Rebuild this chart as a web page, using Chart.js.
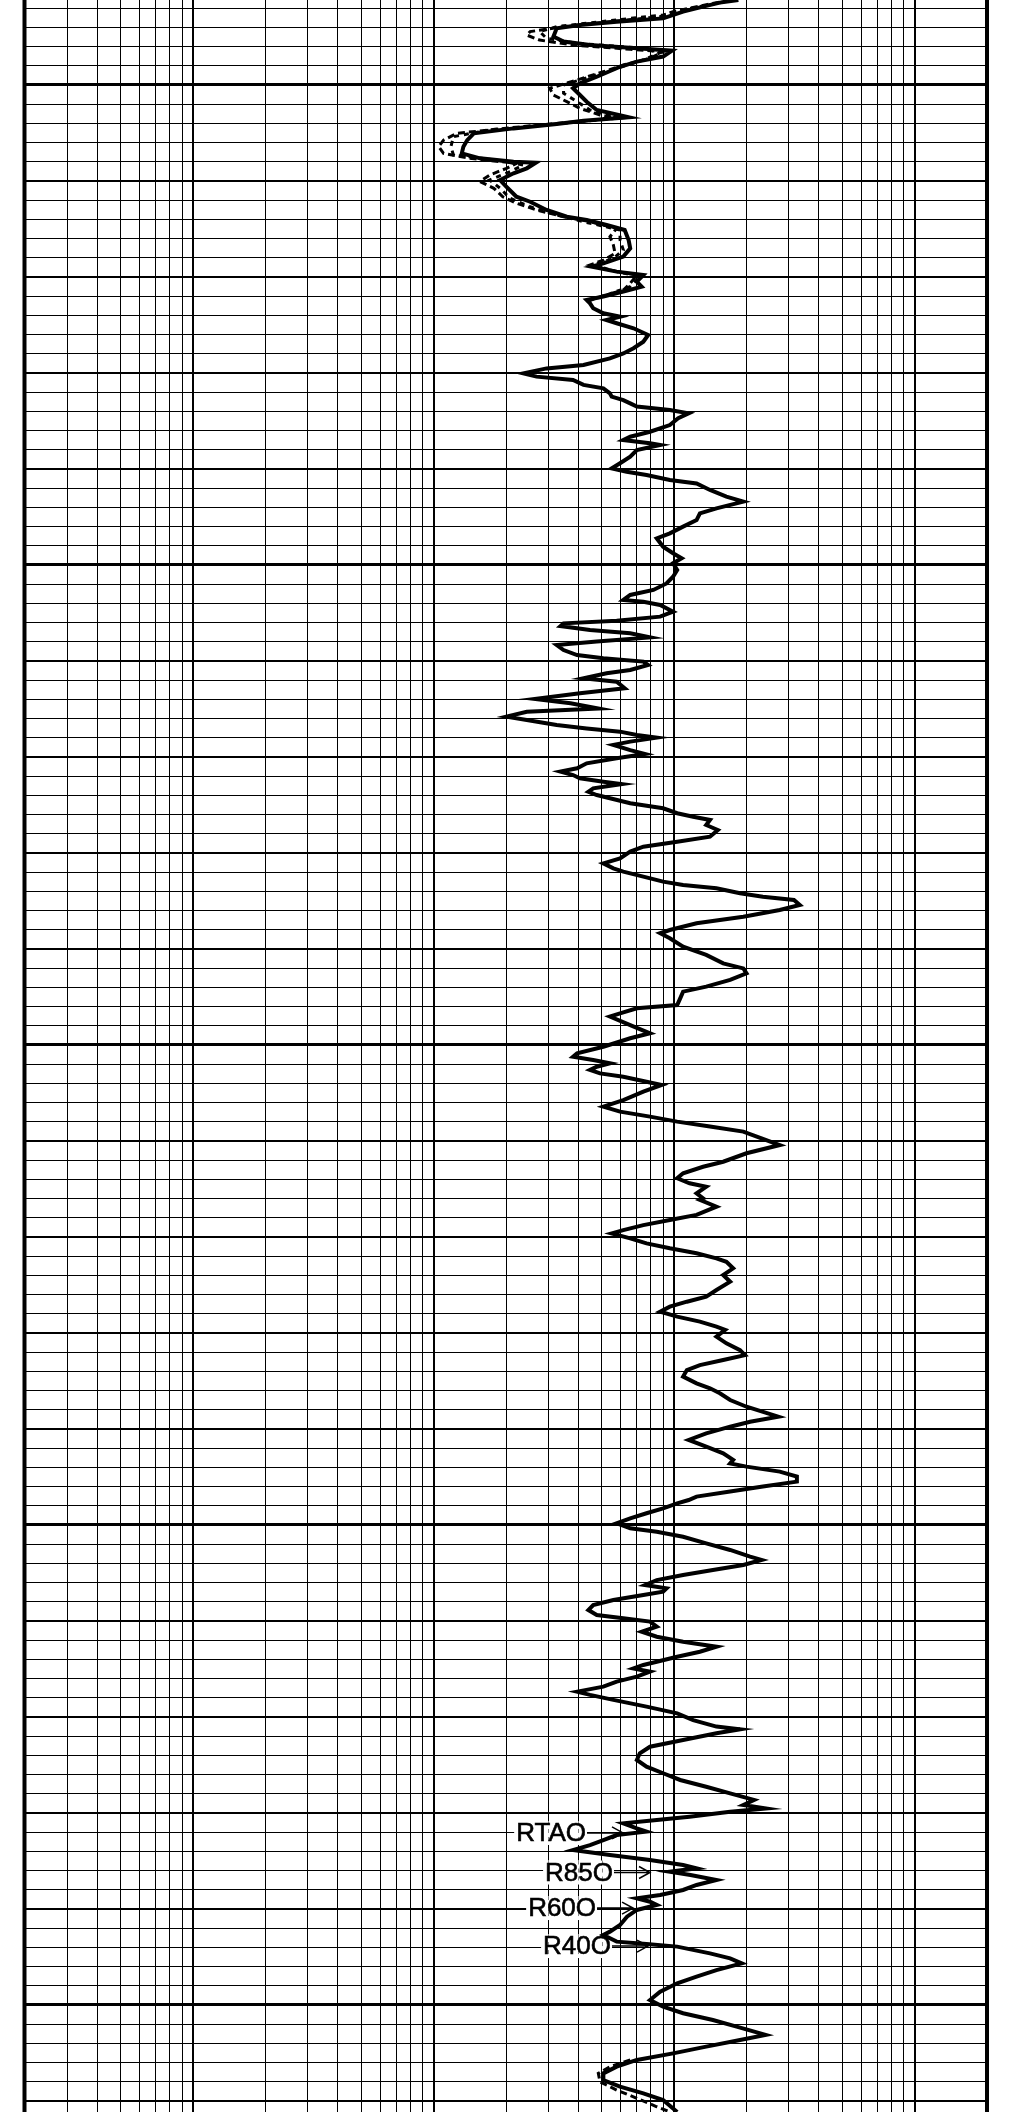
<!DOCTYPE html>
<html>
<head>
<meta charset="utf-8">
<title>Array induction resistivity log</title>
<script src="https://cdn.jsdelivr.net/npm/chart.js@4.4.1/dist/chart.umd.min.js"></script>
<style>
  html, body { margin: 0; padding: 0; background: #fff; overflow: hidden; }
  canvas { display: block; }
</style>
</head>
<body>
<canvas id="log" width="1012" height="2112"></canvas>
<script>
// Depth window of the track (one grid line per depth unit)
const depthTop = 95.573;
const depthBottom = 205.573;

// Resistivity scale (ohm.m), logarithmic, and its grid values
const resMin = 0.2;
const resMax = 2000;
const resGridValues = [
  0.2, 0.3, 0.4, 0.5, 0.6, 0.7, 0.8, 0.9,
  1, 2, 3, 4, 5, 6, 7, 8, 9,
  10, 20, 30, 40, 50, 60, 70, 80, 90,
  100, 200, 300, 400, 500, 600, 700, 800, 900,
  1000, 2000
];

// RTAO (solid curve)
const rtaoDepth = [
  95.57, 95.71, 95.92, 96.18, 96.53, 96.70, 96.88, 97.05, 97.48, 97.74,
  97.92, 98.09, 98.21, 98.52, 98.78, 99.05, 99.57, 99.91, 100.17, 100.52,
  100.87, 101.30, 101.68, 101.86, 102.03, 102.26, 102.52, 102.87, 103.21, 103.56,
  103.82, 104.00, 104.05, 104.34, 104.60, 104.95, 105.30, 105.82, 106.08, 106.51,
  106.86, 107.03, 107.29, 107.55, 108.07, 108.51, 108.94, 109.29, 109.46, 109.72,
  109.90, 110.24, 110.50, 110.76, 111.02, 111.20,
  111.37, 111.63, 111.89, 112.07, 112.24, 112.41, 112.67, 113.02, 113.37, 113.71,
  113.98, 114.24, 114.58, 114.76, 115.02, 115.19, 115.36, 115.62, 115.80, 116.06,
  116.23, 116.41, 116.58, 116.75, 116.93, 117.10, 117.36, 117.71, 118.06, 118.32,
  118.49, 118.66, 118.75, 119.01, 119.36, 119.70, 119.97, 120.14, 120.31, 120.57,
  120.75, 121.09, 121.44, 121.70, 122.05, 122.31, 122.66, 123.00, 123.35, 123.61,
  124.05, 124.39, 124.65, 124.91, 125.26, 125.61, 125.96, 126.30, 126.56, 126.82,
  126.91, 127.08, 127.43, 127.69, 127.90, 128.04, 128.18, 128.39, 128.56, 128.77,
  128.99, 129.17, 129.43, 129.69, 129.86, 130.03, 130.21, 130.47, 130.64, 130.90,
  131.08, 131.42, 131.68, 131.98, 132.20, 132.47, 132.64, 132.90, 133.07, 133.33,
  133.51, 133.68, 133.85, 133.99, 134.20, 134.37, 134.64, 134.84, 135.07, 135.33,
  135.59, 135.76, 135.94, 136.11, 136.29, 136.41, 136.63, 136.81, 136.98, 137.15,
  137.41, 137.67, 137.93, 138.11, 138.28, 138.54, 138.80, 139.15, 139.41, 139.67,
  139.93, 140.28, 140.54, 140.80, 140.97, 141.23, 141.49, 141.67, 141.84, 142.10,
  142.28, 142.45,
  142.71, 142.97, 143.32, 143.66, 144.01, 144.18, 144.44, 144.88, 145.31, 145.75,
  146.01, 146.27, 146.61, 146.96, 147.22, 147.57, 147.92, 148.09, 148.35, 148.52,
  148.96, 149.39, 149.65, 150.09, 150.43, 150.61, 150.78, 150.95, 151.13, 151.30,
  151.48, 151.65, 151.91, 152.08, 152.43, 152.87, 153.21, 153.47, 153.73, 153.99,
  154.25, 154.51, 154.86, 155.21, 155.64, 156.08, 156.34, 156.68, 156.94, 157.20,
  157.38, 157.73, 157.99,
  158.07, 158.42, 158.85, 159.11, 159.38, 159.64, 159.81, 160.07, 160.33, 160.59,
  160.85, 161.11, 161.29, 161.63, 161.98, 162.33, 162.76, 163.11, 163.37, 163.63,
  163.89, 164.15, 164.41, 164.67, 164.84, 165.19, 165.54, 165.89, 166.15, 166.41,
  166.67, 166.93, 167.27, 167.62, 167.88, 168.14, 168.49, 168.84, 169.36, 169.62,
  169.88, 170.23, 170.57, 170.92, 171.27, 171.61, 171.79, 171.96, 172.22, 172.48,
  172.74, 173.00, 173.26, 173.52, 173.70,
  173.87, 174.13, 174.39, 174.65, 174.91, 175.17, 175.35, 175.61, 175.96, 176.30,
  176.65, 176.82, 177.08, 177.34, 177.60, 177.87, 178.13, 178.30, 178.47, 178.65,
  178.91, 179.17, 179.43, 179.69, 179.86, 180.03, 180.29, 180.56, 180.82, 181.08,
  181.34, 181.60, 181.86, 182.12, 182.29, 182.47, 182.64, 182.90, 183.16, 183.42,
  183.68, 183.85, 184.11, 184.46, 184.81, 185.16, 185.50, 185.64, 185.85, 186.20,
  186.55, 186.89, 187.24, 187.59, 187.93, 188.28, 188.63, 188.98, 189.32,
  189.58, 189.76, 189.93, 190.19, 190.37, 190.54, 190.80, 190.97, 191.15, 191.41,
  191.67, 191.93, 192.19, 192.45, 192.71, 192.88, 193.06, 193.23, 193.49, 193.75,
  194.01, 194.27, 194.44, 194.62, 194.79, 195.05, 195.40, 195.83, 196.18, 196.35,
  196.70, 196.82, 196.96, 197.31, 197.57, 197.83, 198.18, 198.52, 198.87, 199.31,
  199.74, 200.09, 200.43, 200.78, 201.13, 201.56, 201.82, 202.17, 202.52, 202.86,
  203.21, 203.56, 203.91, 204.25, 204.60, 204.95, 205.57
];
const rtaoValue = [
  185, 155, 132, 109, 90, 57.7, 40.6, 32.5, 31.5, 34.7,
  44.7, 70, 98, 90, 70, 59.6, 47.7, 40.6, 38, 40.6,
  43.3, 47.7, 64.7, 42, 32.5, 21.5, 14.7, 13.8, 13.3, 13.1,
  15.6, 21.5, 26.6, 24.4, 21.5, 18.9, 20.1, 22.1, 25.2, 29.5,
  35.8, 43.3, 52.4, 62.3, 64.7, 65.7, 61.5, 50.8, 45.4, 57.7,
  74.5, 70, 73.3, 61.5, 50.8, 43.3,
  44.7, 46.1, 50.8, 59.6, 52.3, 57.7, 67.8, 78, 74.5, 67.8,
  61.5, 54.1, 42, 29.5, 23.6, 26.8, 38, 42, 50.8, 54.1,
  55, 61.5, 65.7, 70, 96, 115, 104, 96, 79.4, 65.7,
  61.5, 79.4, 87.5, 70, 65.7, 59.6, 55, 63.5, 76.8, 96,
  124, 141, 165, 194, 150, 128, 124, 109, 96, 84.7,
  90, 99, 107.5, 99, 103, 99, 93, 82, 65.7, 61.5,
  74.5, 87.5, 99, 87.5, 57.7, 34.7, 33.7, 44.7, 65.7, 79.4,
  47.7, 32.5, 34.7, 39.5, 50.8, 74.5, 78, 65.7, 52.4, 42,
  57.7, 62.3, 40.6, 26.4, 37.1, 48.4, 24.4, 20.1, 24.4, 32.5,
  43.3, 59.6, 70, 84.7, 65.7, 55.9, 65.7, 75.7, 57.7, 43.3,
  39.5, 33.7, 38, 40.6, 50.8, 60.5, 46.1, 44, 47.7, 54.1,
  65.7, 90, 103, 120, 141, 136, 152, 141, 103, 74.5,
  65.7, 59.6, 50.8, 55.9, 61.5, 74.5, 90, 109, 150, 188,
  234, 315,
  333, 275, 194, 124, 96, 87.5, 96, 109, 136, 160,
  194, 200, 171, 136, 109, 106, 103, 70, 59.6, 54.1,
  65.7, 79.4, 65.7, 50.8, 39.5, 38, 46.1, 54.1, 47.7, 44.7,
  49.2, 61.5, 76.8, 88.8, 74.5, 61.5, 50.8, 59.6, 79.4, 103,
  141, 194, 231, 275, 200, 160, 132, 109, 103, 116,
  136, 124, 132,
  128, 150, 124, 96, 74.5, 61.5, 55, 65.7, 76.8, 96,
  124, 150, 165, 176, 160, 171, 150, 136, 113, 96,
  87.5, 103, 128, 150, 163, 150, 165, 188, 197, 160,
  128, 113, 109, 124, 141, 155, 171, 200, 271, 207,
  171, 136, 115, 136, 160, 176, 171, 200, 275, 324,
  324, 234, 171, 124, 115,
  103, 90, 76.8, 65.7, 57.7, 65.7, 84.7, 109, 136, 171,
  207, 231, 194, 145, 109, 84.7, 75.7, 93, 90, 74.5,
  55.9, 46.1, 44, 47.7, 61.5, 79.4, 84.7, 73.3, 84.7, 109,
  150, 128, 103, 84.7, 74.5, 67.8, 79.4, 70, 57.7, 50.8,
  39.5, 44.7, 55.9, 76.8, 103, 120, 150, 188, 150, 109,
  79.4, 72, 70, 76.8, 90, 106, 136, 171, 215,
  194, 241, 171, 116, 84.7, 61.5, 70, 76.8, 57.7, 50.8,
  44.7, 38, 54.1, 79.4, 109, 124, 96, 117, 150, 124,
  109, 87.5, 70, 79.4, 84.7, 70, 63.7, 59.6, 54.1, 50.8,
  57.7, 76.8, 103, 141, 171, 191, 150, 124, 103, 87.5,
  79.4, 90, 109, 145, 182, 240, 188, 136, 99, 70,
  57.7, 50.8, 50.8, 59.6, 74.5, 90, 103
];

// R40O (dashed) where it separates from RTAO, upper interval
const r40UpperDepth = [
  95.57, 95.92, 96.18, 96.44, 96.70, 96.96, 97.22, 97.40, 97.66, 97.92,
  98.14, 98.26, 98.61, 98.96, 99.31, 99.74, 100.17, 100.52, 100.87, 101.22,
  101.56, 101.74, 102.00, 102.26, 102.52, 102.87, 103.21, 103.56, 103.82, 104.08,
  104.34, 104.69, 105.03, 105.38, 105.82, 106.16, 106.51, 106.86, 107.12, 107.47,
  107.90, 108.33, 108.77, 109.12, 109.37, 109.64, 109.90, 110.33, 110.68, 111.02,
  111.28
];
const r40UpperValue = [
  171, 124, 99, 87.5, 54.1, 34.7, 25.2, 24.4, 27.6, 38,
  65.7, 90, 79.4, 61.5, 50.8, 39.5, 30.4, 31.5, 35.8, 40.6,
  49.2, 57.7, 32.5, 19.6, 12.5, 11, 10.5, 11, 14.1, 22.1,
  20.1, 17.1, 15.6, 17.8, 19.4, 22.1, 26.8, 34.7, 44.7, 57.7,
  54.1, 55.9, 56.8, 50.8, 44.7, 54.1, 70, 65.7, 61.5, 49.2,
  43.3
];

// R60O (dashed) where it separates from RTAO, upper interval
const r60UpperDepth = [
  95.57, 96.01, 96.35, 96.61, 96.96, 97.22, 97.57, 97.83, 98.09, 98.32,
  98.70, 99.13, 99.57, 100.00, 100.43, 100.87, 101.30, 101.68, 102.00, 102.34,
  102.69, 103.21, 103.65, 103.91, 104.17, 104.51, 104.95, 105.38, 105.90, 106.34,
  106.77, 107.12, 107.55, 108.07, 108.59, 109.03, 109.37, 109.72, 109.98, 110.50,
  110.93, 111.28
];
const r60UpperValue = [
  178, 117, 90, 57.7, 32.5, 27.6, 29.5, 39.5, 74.5, 87.5,
  74.5, 57.7, 44.7, 34.7, 34.7, 39.5, 44.7, 57.7, 34.7, 17.1,
  12.1, 11.8, 12.1, 18.3, 23.6, 20.8, 17.1, 18.9, 20.8, 25.2,
  32.5, 42, 59.6, 59.6, 61.5, 55.9, 46.1, 57.7, 72, 65.7,
  52.4, 43.3
];

// R40O (dashed), lower interval
const r40LowerDepth = [202.86, 203.21, 203.56, 204.00, 204.43, 204.86, 205.30, 205.57];
const r40LowerValue = [65.7, 54.1, 48.4, 49.2, 57.7, 70, 84.7, 96];

// Curve name tags with the depth and resistivity their arrows point at
const curveNames = ['RTAO', 'R85O', 'R60O', 'R40O'];
const tagDepths = [191.04, 193.10, 194.95, 196.93];
const tagValues = [61.3, 79.4, 67.5, 77.9];

function toPoints(depths, values) {
  return depths.map((d, i) => ({ x: values[i], y: d }));
}

function isDecade(v) {
  const e = Math.log10(v);
  return Math.abs(e - Math.round(e)) < 1e-9;
}

// Track borders and curve-name tags
const trackDecor = {
  id: 'trackDecor',
  beforeDatasetsDraw(chart) {
    const { ctx, scales: { x, y } } = chart;
    ctx.save();
    ctx.font = '26px "Liberation Sans", Arial, sans-serif';
    ctx.textBaseline = 'middle';
    curveNames.forEach((name, i) => {
      const tipX = x.getPixelForValue(tagValues[i]);
      const py = y.getPixelForValue(tagDepths[i]);
      const endX = tipX - 37;
      const w = ctx.measureText(name).width;
      const left = endX - w;
      ctx.fillStyle = '#fff';
      ctx.fillRect(left - 2, py - 12, w + 3, 24);
      // grid verticals show as broken lines behind the tag
      ctx.strokeStyle = '#8a8a8a';
      ctx.lineWidth = 1;
      ctx.setLineDash([4, 4]);
      resGridValues.forEach(v => {
        const gx = Math.round(x.getPixelForValue(v)) + 0.5;
        if (gx > left - 2 && gx < left + w + 1) {
          ctx.beginPath();
          ctx.moveTo(gx, py - 12);
          ctx.lineTo(gx, py + 12);
          ctx.stroke();
        }
      });
      ctx.setLineDash([]);
      ctx.fillStyle = '#000';
      ctx.fillText(name, left, py + 1);
      ctx.lineWidth = 0.6;
      ctx.strokeStyle = '#000';
      ctx.strokeText(name, left, py + 1);
      ctx.lineWidth = 1.5;
      ctx.beginPath();
      ctx.moveTo(endX + 1, py);
      ctx.lineTo(tipX, py);
      ctx.moveTo(tipX - 11, py - 6);
      ctx.lineTo(tipX, py);
      ctx.lineTo(tipX - 11, py + 6);
      ctx.stroke();
    });
    ctx.restore();
  },
  afterDraw(chart) {
    const { ctx, chartArea } = chart;
    ctx.save();
    ctx.fillStyle = '#000';
    ctx.fillRect(chartArea.left - 2.5, chartArea.top, 4, chartArea.bottom - chartArea.top);
    ctx.fillRect(chartArea.right - 2, chartArea.top, 4, chartArea.bottom - chartArea.top);
    ctx.restore();
  }
};

const solidStyle = {
  showLine: true,
  borderColor: '#000',
  borderWidth: 4,
  pointRadius: 0,
  tension: 0,
  borderJoinStyle: 'miter'
};
const dashedStyle = {
  showLine: true,
  borderColor: '#000',
  borderWidth: 3,
  borderDash: [7, 4],
  pointRadius: 0,
  tension: 0
};

new Chart(document.getElementById('log'), {
  type: 'scatter',
  data: {
    datasets: [
      Object.assign({ label: 'R40O', data: toPoints(r40UpperDepth, r40UpperValue) }, dashedStyle),
      Object.assign({ label: 'R60O', data: toPoints(r60UpperDepth, r60UpperValue) }, dashedStyle, { borderDash: [5, 5] }),
      Object.assign({ label: 'R40O lower', data: toPoints(r40LowerDepth, r40LowerValue) }, dashedStyle),
      Object.assign({ label: 'RTAO', data: toPoints(rtaoDepth, rtaoValue) }, solidStyle)
    ]
  },
  options: {
    responsive: false,
    devicePixelRatio: 1,
    animation: false,
    events: [],
    layout: { padding: { left: 25, right: 25, top: 0, bottom: 0 } },
    plugins: { legend: { display: false }, tooltip: { enabled: false } },
    scales: {
      x: {
        type: 'logarithmic',
        min: resMin,
        max: resMax,
        position: 'bottom',
        afterBuildTicks: s => { s.ticks = resGridValues.map(v => ({ value: v })); },
        afterFit: s => { s.height = 0; },
        ticks: { display: false, autoSkip: false },
        border: { display: false },
        grid: {
          drawTicks: false,
          color: '#000',
          lineWidth: c => (c.tick && isDecade(c.tick.value)) ? 2 : 1
        }
      },
      y: {
        type: 'linear',
        min: depthTop,
        max: depthBottom,
        reverse: true,
        afterBuildTicks: s => {
          const t = [];
          for (let d = Math.ceil(depthTop); d <= Math.floor(depthBottom); d++) t.push({ value: d });
          s.ticks = t;
        },
        afterFit: s => { s.width = 0; },
        ticks: { display: false, autoSkip: false },
        border: { display: false },
        grid: {
          drawTicks: false,
          color: '#000',
          lineWidth: c => {
            if (!c.tick) return 1;
            const v = c.tick.value;
            return v % 25 === 0 ? 3 : (v % 5 === 0 ? 2 : 1);
          }
        }
      }
    }
  },
  plugins: [trackDecor]
});
</script>
</body>
</html>
